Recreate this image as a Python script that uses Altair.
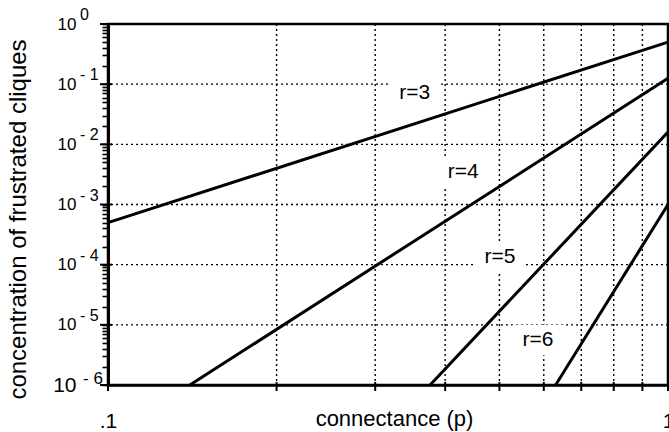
import altair as alt
import pandas as pd

# Clique size and the two ends of each straight (log-log) line: (connectance, concentration)
series_names = ["r=3", "r=4", "r=5", "r=6"]
p_start = [0.1, 0.14, 0.376, 0.63]
c_start = [5e-4, 1e-6, 1e-6, 1e-6]
p_end = [1.0, 1.0, 1.0, 1.0]
c_end = [0.5, 0.125, 0.016, 1e-3]

# Where each "r=" label sits
label_p = [0.353, 0.431, 0.501, 0.586]
label_c = [0.0714, 0.00348, 1.35e-4, 5.6e-6]

# Grid and tick positions
x_grid = [0.2, 0.3, 0.4, 0.5, 0.6, 0.7, 0.8, 0.9]
y_grid = [1e-1, 1e-2, 1e-3, 1e-4, 1e-5]
x_ticks = [0.1, 0.2, 0.3, 0.4, 0.5, 0.6, 0.7, 0.8, 0.9, 1.0]
y_decades = [1.0, 1e-1, 1e-2, 1e-3, 1e-4, 1e-5, 1e-6]
y_exponents = ["0", "- 1", "- 2", "- 3", "- 4", "- 5", "- 6"]
minor_mult = [2, 3, 4, 5, 6, 7, 8, 9]
y_minor = [m * d for d in y_decades[1:] for m in minor_mult]

FONT = "Liberation Sans"

lines_df = pd.DataFrame(
    [{"r": n, "p": a, "c": b} for n, a, b in zip(series_names, p_start, c_start)]
    + [{"r": n, "p": a, "c": b} for n, a, b in zip(series_names, p_end, c_end)]
)
labels_df = pd.DataFrame({"r": series_names, "p": label_p, "c": label_c})
vgrid_df = pd.DataFrame({"p": x_grid})
hgrid_df = pd.DataFrame({"c": y_grid})
exp_df = pd.DataFrame({"c": y_decades, "e": y_exponents})
xtick_df = pd.DataFrame({"p": x_ticks})
ymajor_df = pd.DataFrame({"c": y_decades})

xs = alt.Scale(type="log", domain=[0.1, 1], nice=False)
ys = alt.Scale(type="log", domain=[1e-6, 1], nice=False)

W, H = 560, 361

decade_test = (
    "datum.value == 1 || datum.value == 0.1 || datum.value == 0.01 || datum.value == 0.001"
    " || datum.value == 0.0001 || datum.value == 0.00001 || datum.value == 0.000001"
)

x_axis = alt.Axis(
    values=x_ticks,
    labelExpr="datum.value < 0.15 ? '.1' : (datum.value > 0.95 ? '1' : '')",
    grid=False,
    ticks=False,
    domainColor="black",
    domainWidth=2.5,
    labelFont=FONT,
    labelFontSize=21,
    labelColor="black",
    labelPadding=25,
    labelFlush=False,
    labelOverlap=False,
    labelBound=False,
    title="connectance (p)",
    titleFont=FONT,
    titleFontSize=22,
    titleFontWeight="normal",
    titleColor="black",
    titleX=286,
    titleY=40,
    titleAlign="center",
    titleBaseline="alphabetic",
)

y_axis = alt.Axis(
    values=y_decades + y_minor,
    labelExpr="(" + decade_test + ") ? '10' : ''",
    grid=False,
    ticks=True,
    tickSize=6,
    tickWidth=1.6,
    tickColor="black",
    domainColor="black",
    domainWidth=3,
    labelFont=FONT,
    labelFontSize={"condition": {"test": "datum.value < 2e-6", "value": 21}, "value": 17},
    labelColor="black",
    labelPadding=26,
    labelOverlap=False,
    labelBound=False,
    labelFlush=False,
    title="concentration of frustrated cliques",
    titleFont=FONT,
    titleFontSize=24,
    titleFontWeight="normal",
    titleColor="black",
    titleAngle=270,
    titleX=-83,
    titleY=195,
    titleAlign="center",
    titleBaseline="alphabetic",
)

dots = [2, 3]

vgrid = alt.Chart(vgrid_df).mark_rule(color="black", strokeWidth=1.4, strokeDash=dots).encode(
    x=alt.X("p:Q", scale=xs)
)
hgrid = alt.Chart(hgrid_df).mark_rule(color="black", strokeWidth=1.4, strokeDash=dots).encode(
    y=alt.Y("c:Q", scale=ys)
)

# tick marks on the x axis
x_tick_marks = alt.Chart(xtick_df).mark_rule(color="black", strokeWidth=2).encode(
    x=alt.X("p:Q", scale=xs),
    y=alt.value(H - 3),
    y2=alt.value(H + 6),
)
# longer ticks at the decades
y_major_marks = alt.Chart(ymajor_df).mark_tick(
    color="black", orient="horizontal", size=12, thickness=2, opacity=1
).encode(
    y=alt.Y("c:Q", scale=ys),
    x=alt.value(-2),
)

# white patches behind the curve labels
boxes = alt.Chart(labels_df).mark_point(
    shape="M-1,-0.6L1,-0.6L1,0.6L-1,0.6Z",
    filled=True,
    fill="white",
    opacity=1,
    strokeWidth=0,
    size=2600,
).encode(
    x=alt.X("p:Q", scale=xs),
    y=alt.Y("c:Q", scale=ys),
)

lines = alt.Chart(lines_df).mark_line(color="black", strokeWidth=3).encode(
    x=alt.X("p:Q", scale=xs, axis=x_axis),
    y=alt.Y("c:Q", scale=ys, axis=y_axis),
    detail="r:N",
)

texts = alt.Chart(labels_df).mark_text(
    font=FONT, fontSize=21, color="black", align="center", baseline="middle"
).encode(
    x=alt.X("p:Q", scale=xs),
    y=alt.Y("c:Q", scale=ys),
    text="r:N",
)

# exponents of the power-of-ten labels on the y axis
exps = alt.Chart(exp_df).transform_filter("datum.c > 2e-6").mark_text(
    font=FONT, fontSize=16, color="black", align="left", baseline="middle", dx=-28, dy=-9
).encode(
    x=alt.value(0),
    y=alt.Y("c:Q", scale=ys),
    text="e:N",
)
exp_low = alt.Chart(exp_df).transform_filter("datum.c < 2e-6").mark_text(
    font=FONT, fontSize=17, color="black", align="left", baseline="middle", dx=-25, dy=-6
).encode(
    x=alt.value(0),
    y=alt.Y("c:Q", scale=ys),
    text="e:N",
)

chart = (
    alt.layer(vgrid, hgrid, boxes, lines, texts, x_tick_marks, y_major_marks, exps, exp_low)
    .properties(
        width=W,
        height=H,
        autosize=alt.AutoSizeParams(type="none"),
        padding={"left": 108, "top": 24, "right": 1, "bottom": 47},
        background="white",
    )
    .configure_view(stroke="black", strokeWidth=2.5)
)

chart.save("out.html", embed_options={"renderer": "svg", "actions": False})
